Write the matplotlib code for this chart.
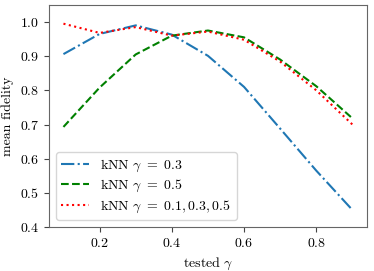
import matplotlib
matplotlib.use("Agg")
import matplotlib.pyplot as plt

plt.rcParams['font.family'] = 'serif'
plt.rcParams['font.serif'] = ['cmr10']
plt.rcParams['mathtext.fontset'] = 'cm'
plt.rcParams['axes.formatter.use_mathtext'] = True
plt.rcParams['font.size'] = 10

gamma = [0.1, 0.2, 0.3, 0.4, 0.5, 0.6, 0.7, 0.8, 0.9]
fid_03 = [0.906, 0.965, 0.990, 0.963, 0.901, 0.810, 0.688, 0.565, 0.450]
fid_05 = [0.693, 0.808, 0.905, 0.960, 0.975, 0.955, 0.890, 0.812, 0.718]
fid_all = [0.995, 0.968, 0.985, 0.960, 0.972, 0.948, 0.884, 0.800, 0.700]

fig, ax = plt.subplots(figsize=(3.74, 2.71), dpi=100)
ax.plot(gamma, fid_03, '-.', color='#1f77b4', label=r'kNN $\gamma\ =\ 0.3$')
ax.plot(gamma, fid_05, '--', color='green', label=r'kNN $\gamma\ =\ 0.5$')
ax.plot(gamma, fid_all, ':', color='red', label=r'kNN $\gamma\ =\ 0.1, 0.3, 0.5$')
ax.set_ylim(0.4, 1.05)
ax.set_xlabel(r'tested $\gamma$')
ax.set_ylabel('mean fidelity')
for s in ax.spines.values():
    s.set_color('#666666')
ax.tick_params(color='#444444')
ax.legend(loc='lower left', labelspacing=0.3)
fig.subplots_adjust(left=0.131, right=0.981, top=0.982, bottom=0.162)
fig.savefig('out.png')
